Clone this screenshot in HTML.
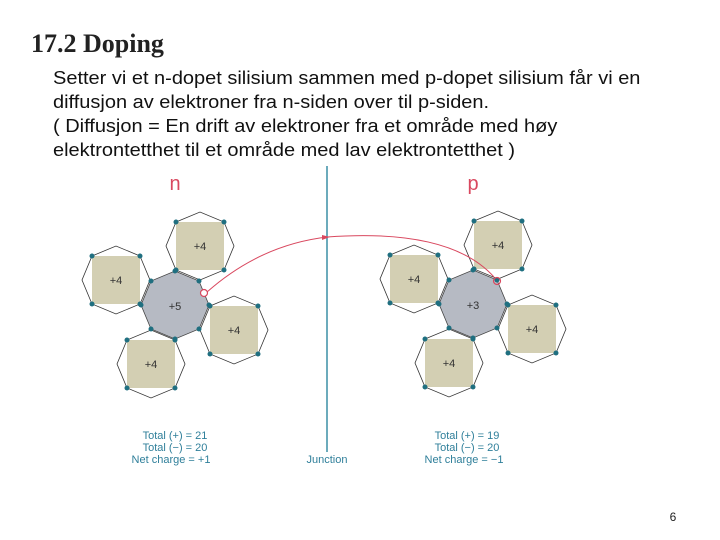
<!DOCTYPE html>
<html><head><meta charset="utf-8"><style>
body{margin:0;width:720px;height:540px;background:#fff;position:relative;overflow:hidden;font-family:"Liberation Sans",sans-serif}
h1{position:absolute;left:31px;top:29px;margin:0;font-family:"Liberation Serif",serif;font-weight:bold;font-size:26px;color:#222}
.t{position:absolute;left:53px;top:66px;font-size:18.5px;line-height:24px;color:#111;transform:scaleX(1.08);transform-origin:0 0;white-space:nowrap}
svg{position:absolute;left:0;top:0}
</style></head><body>
<h1>17.2 Doping</h1>
<div class="t">Setter vi et n-dopet silisium sammen med p-dopet silisium får vi en<br>diffusjon av elektroner fra n-siden over til p-siden.<br>( Diffusjon = En drift av elektroner fra et område med høy<br>elektrontetthet til et område med lav elektrontetthet )</div>
<svg width="720" height="540" viewBox="0 0 720 540">
<defs>
<g id="sq">
<polygon points="-24,-24 0,-34 24,-24 34,0 24,24 0,34 -24,24 -34,0" fill="none" stroke="#333" stroke-width="0.8"/>
<rect x="-24" y="-24" width="48" height="48" fill="#d3cfb3"/>
<g fill="#1f6f80"><circle cx="-24" cy="-24" r="2.5"/><circle cx="24" cy="-24" r="2.5"/><circle cx="24" cy="24" r="2.5"/><circle cx="-24" cy="24" r="2.5"/></g>
<text x="0" y="4" font-size="11" text-anchor="middle" fill="#333">+4</text>
</g>
<g id="oct">
<polygon points="0,-35 24,-25 34,-1 24,23 0,33 -24,23 -34,-1 -24,-25" fill="#b6bac3" stroke="#444" stroke-width="0.8"/>
<g fill="#1f6f80"><circle cx="0" cy="-35" r="2.5"/><circle cx="24" cy="-25" r="2.5"/><circle cx="34" cy="-1" r="2.5"/><circle cx="24" cy="23" r="2.5"/><circle cx="0" cy="33" r="2.5"/><circle cx="-24" cy="23" r="2.5"/><circle cx="-34" cy="-1" r="2.5"/><circle cx="-24" cy="-25" r="2.5"/></g>
</g>
</defs>
<g transform="translate(175,306)">
<use href="#sq" x="25" y="-60"/><use href="#sq" x="-59" y="-26"/><use href="#sq" x="59" y="24"/><use href="#sq" x="-24" y="58"/>
<use href="#oct"/><text x="0" y="4" font-size="11" text-anchor="middle" fill="#333">+5</text>
</g>
<g transform="translate(473,305)">
<use href="#sq" x="25" y="-60"/><use href="#sq" x="-59" y="-26"/><use href="#sq" x="59" y="24"/><use href="#sq" x="-24" y="58"/>
<use href="#oct"/><text x="0" y="4" font-size="11" text-anchor="middle" fill="#333">+3</text>
</g>
<line x1="327" y1="166" x2="327" y2="452" stroke="#3b8fa6" stroke-width="1.5"/>
<path d="M207,292 Q260,245 327,237 Q450,228 494,277" fill="none" stroke="#d9485f" stroke-width="1"/>
<polygon points="322,235 330,237 322,240" fill="#d9485f"/>
<circle cx="204" cy="293" r="3.5" fill="#fff" stroke="#d9485f" stroke-width="1.2"/>
<circle cx="497" cy="281" r="3.5" fill="none" stroke="#d9485f" stroke-width="1.2"/>
<text x="175" y="190" font-size="20" text-anchor="middle" fill="#d9485f">n</text>
<text x="473" y="190" font-size="20" text-anchor="middle" fill="#d9485f">p</text>
<g font-size="11" fill="#2f7f9a" text-anchor="middle">
<text x="175" y="439">Total (+) = 21</text><text x="175" y="451">Total (−) = 20</text><text x="171" y="463">Net charge = +1</text>
<text x="467" y="439">Total (+) = 19</text><text x="467" y="451">Total (−) = 20</text><text x="464" y="463">Net charge = −1</text>
<text x="327" y="463">Junction</text>
</g>
<text x="673" y="521" font-size="12" text-anchor="middle" fill="#222">6</text>
</svg>
</body></html>
